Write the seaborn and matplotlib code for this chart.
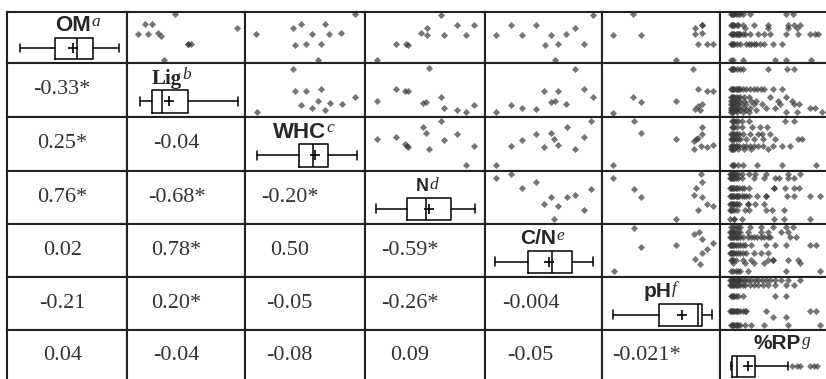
import matplotlib
matplotlib.use('Agg')
import matplotlib.pyplot as plt
import pandas as pd
import seaborn as sns

# Variables on the diagonal and their footnote letters
variables = ['OM', 'Lig', 'WHC', 'N', 'C/N', 'pH', '%RP']
footnotes = ['a', 'b', 'c', 'd', 'e', 'f', 'g']

# Lower triangle: correlation coefficients (* = significant)
corr_text = [
    [],
    ['-0.33*'],
    ['0.25*', '-0.04'],
    ['0.76*', '-0.68*', '-0.20*'],
    ['0.02', '0.78*', '0.50', '-0.59*'],
    ['-0.21', '0.20*', '-0.05', '-0.26*', '-0.004'],
    ['0.04', '-0.04', '-0.08', '0.09', '-0.05', '-0.021*'],
]

# Box plot statistics per variable (scaled 0-100 across the cell)
box_whislo = [11, 11, 10, 9, 8.5, 9, 9]
box_q1 = [40, 21, 45, 35, 37, 48, 10]
box_med = [58, 30, 57, 51, 57, 81, 14]
box_mean = [55, 36, 58, 53, 55, 68, 23]
box_q3 = [72, 52, 69, 72, 74, 85, 29]
box_whishi = [93, 94, 93, 92, 92, 93, 57]
rp_fliers = [60, 64, 67, 75, 78, 81]

# Upper triangle scatter points (x = column variable, y = row variable), scaled 0-100
om_lig = [(41, 96), (15, 76), (21, 76), (93, 69), (9, 57), (18, 57), (26, 59), (29, 53),
          (52, 37), (52, 37), (54, 37), (31, 6)]
om_whc = [(92, 96), (40, 69), (47, 76), (67, 76), (9, 57), (56, 57), (70, 57), (80, 59),
          (42, 35), (51, 37), (63, 37), (61, 6)]
om_n = [(63, 94), (52, 69), (47, 59), (52, 55), (77, 75), (91, 75), (66, 55), (84, 55),
        (26, 37), (34, 37), (36, 35), (10, 6)]
om_cn = [(92, 94), (22, 75), (44, 75), (9, 55), (32, 55), (56, 55), (69, 57), (77, 69),
         (51, 35), (62, 37), (85, 37), (60, 6)]
om_ph = [(26, 96), (9, 55), (33, 55), (85, 75), (85, 75), (79, 69), (79, 57), (85, 59),
         (81, 37), (89, 37), (94, 37), (63, 6)]
lig_whc = [(40, 89), (42, 48), (51, 48), (63, 52), (92, 37), (61, 30), (71, 26), (81, 24),
           (47, 22), (56, 17), (67, 13), (10, 9)]
lig_n = [(53, 91), (26, 52), (33, 48), (36, 48), (63, 37), (10, 30), (48, 26), (51, 28),
         (66, 17), (77, 13), (84, 9), (91, 22)]
lig_cn = [(77, 89), (50, 48), (62, 48), (85, 52), (92, 37), (9, 9), (22, 22), (32, 17),
          (44, 15), (56, 28), (60, 30), (69, 24)]
lig_ph = [(77, 89), (81, 52), (89, 48), (94, 48), (26, 37), (33, 28), (63, 30), (81, 20),
          (85, 24), (79, 15), (83, 13), (9, 7)]
whc_n = [(63, 93), (48, 81), (51, 70), (10, 59), (26, 63), (33, 50), (35, 46), (36, 44),
         (53, 41), (66, 57), (77, 69), (91, 46), (84, 11)]
whc_cn = [(91, 93), (70, 81), (44, 69), (56, 70), (32, 57), (59, 59), (62, 48), (22, 46),
          (50, 44), (77, 41), (85, 63), (9, 11)]
whc_ph = [(27, 93), (33, 70), (63, 59), (85, 81), (85, 69), (81, 61), (80, 59), (78, 56),
          (78, 41), (84, 46), (89, 44), (94, 48), (9, 11)]
n_cn = [(9, 87), (22, 94), (32, 68), (44, 79), (56, 51), (50, 38), (62, 34), (70, 51),
        (77, 55), (91, 66), (85, 26), (59, 9)]
n_ph = [(9, 87), (27, 66), (33, 51), (84, 94), (85, 79), (80, 68), (78, 55), (85, 51),
        (89, 38), (94, 34), (81, 26), (63, 9)]
cn_ph = [(27, 92), (78, 81), (82, 85), (33, 57), (63, 60), (85, 72), (94, 64), (89, 53),
         (85, 45), (79, 34), (83, 25), (10, 11)]

# %RP column: each row variable has a few levels, with many %RP values per level
rp_om_y = [96, 75, 69, 57, 37, 6]
rp_om_x = [[9, 10, 11, 12, 13, 15, 17, 19, 25, 55, 61],
           [9, 10, 11, 12, 14, 15, 19, 28, 40, 57, 62, 67],
           [21, 40, 57, 64],
           [9, 10, 11, 12, 13, 14, 15, 16, 17, 19, 21, 25, 32, 37, 42, 55, 65, 75, 79, 82],
           [9, 10, 11, 12, 14, 17, 22, 24, 26, 28, 30, 33, 37, 44, 52],
           [9, 11, 19, 46, 55, 76]]
rp_lig_y = [89, 52, 37, 30, 24, 17, 13, 9]
rp_lig_x = [[9, 10, 11, 12, 14, 17, 19, 40, 56, 62],
            [9, 10, 11, 12, 13, 14, 15, 16, 17, 19, 22, 25, 28, 31, 34, 37, 44, 52],
            [9, 10, 11, 12, 13, 15, 17, 20, 24, 42, 55],
            [9, 10, 11, 12, 14, 16, 20, 26, 30, 48, 60],
            [9, 10, 11, 13, 15, 18, 22, 28, 35, 50, 62, 66],
            [9, 10, 11, 12, 14, 16, 20, 25, 38, 46, 75, 79],
            [9, 10, 11, 12, 13, 17, 22, 30],
            [9, 10, 11, 14, 19, 24, 55, 64, 85]]
rp_whc_y = [93, 81, 69, 59, 46, 41, 11]
rp_whc_x = [[10, 11, 12, 13, 15, 18, 24, 54, 62],
            [10, 11, 12, 14, 18, 27, 33, 39],
            [9, 10, 11, 12, 13, 14, 16, 19, 25, 32, 35, 42],
            [9, 10, 11, 12, 13, 15, 17, 22, 28, 36, 46, 65, 68],
            [9, 10, 11, 12, 13, 14, 16, 19, 22, 25, 28, 32, 36, 44, 52, 58],
            [9, 10, 11, 12, 15, 20, 26, 40],
            [10, 11, 12, 15, 19, 31, 52, 80]]
rp_n_y = [94, 87, 68, 53, 38, 26, 9]
rp_n_x = [[8, 9, 10, 11, 12, 13, 15, 18, 24, 29, 38, 57, 67],
          [8, 9, 10, 11, 12, 13, 15, 18, 28, 37, 46, 49, 57, 62],
          [8, 9, 10, 11, 12, 13, 14, 16, 18, 20, 24, 45, 45, 54, 62, 66],
          [8, 9, 10, 11, 12, 13, 14, 15, 16, 18, 20, 22, 24, 31, 38, 38, 56, 62, 75, 83],
          [8, 9, 10, 11, 12, 13, 14, 16, 23, 23, 29, 37],
          [8, 9, 10, 12, 14, 21, 24, 38, 43, 53],
          [8, 12, 12, 18, 45, 53, 75]]
rp_cn_y = [94, 85, 75, 60, 45, 32, 26, 11]
rp_cn_x = [[9, 11, 13, 15, 17, 25, 34, 44, 55, 61],
           [8, 9, 10, 11, 12, 13, 15, 17, 23, 34, 40, 51, 57],
           [8, 9, 10, 11, 12, 13, 14, 15, 17, 19, 23, 26, 28, 31, 34, 37, 40, 42, 58, 63],
           [8, 9, 10, 11, 12, 13, 15, 17, 19, 21, 26, 38, 46, 55, 75, 80],
           [8, 9, 10, 11, 12, 13, 15, 17, 19, 22, 28, 34, 40],
           [9, 10, 11, 13, 19, 26, 40, 44, 44, 57, 65],
           [11, 21, 28, 37, 67],
           [9, 11, 13, 15, 17, 23, 55, 83]]
rp_ph_y = [94, 85, 64, 36, 25, 9]
rp_ph_x = [[8, 9, 10, 11, 12, 13, 14, 15, 16, 17, 19, 21, 23, 26, 29, 32, 35, 38, 42, 46, 51, 57, 67],
           [8, 9, 10, 11, 12, 13, 14, 15, 17, 19, 21, 25, 28, 32, 36, 40, 46, 55, 62],
           [9, 10, 11, 12, 13, 15, 19, 46, 55],
           [8, 9, 10, 11, 12, 13, 14, 15, 17, 19, 21, 22, 38, 75, 80],
           [44, 55],
           [9, 10, 11, 12, 13, 14, 15, 17, 21, 26, 37, 57, 83]]


def expand_levels(levels, xs):
    return [(x, y) for y, row in zip(levels, xs) for x in row]


scatter_data = {
    (0, 1): om_lig, (0, 2): om_whc, (0, 3): om_n, (0, 4): om_cn, (0, 5): om_ph,
    (1, 2): lig_whc, (1, 3): lig_n, (1, 4): lig_cn, (1, 5): lig_ph,
    (2, 3): whc_n, (2, 4): whc_cn, (2, 5): whc_ph,
    (3, 4): n_cn, (3, 5): n_ph,
    (4, 5): cn_ph,
    (0, 6): expand_levels(rp_om_y, rp_om_x),
    (1, 6): expand_levels(rp_lig_y, rp_lig_x),
    (2, 6): expand_levels(rp_whc_y, rp_whc_x),
    (3, 6): expand_levels(rp_n_y, rp_n_x),
    (4, 6): expand_levels(rp_cn_y, rp_cn_x),
    (5, 6): expand_levels(rp_ph_y, rp_ph_x),
}

# Table layout in pixels
W, H = 826, 379
col_edges = [7, 127, 245, 365, 485, 602, 720, 840]
row_edges = [12, 63, 117, 171, 224, 277, 330, 381]
corr_x = [46, 42, 37, 37, 39, 38]
label_x = [40, 21, 23, 42, 30, 35, 28]
label_size = [16, 15, 16, 13, 15, 15, 15]

sns.set_style('white')
plt.rcParams['font.family'] = ['Liberation Sans', 'DejaVu Sans']

fig = plt.figure(figsize=(W / 100, H / 100), dpi=100)


def cell_axes(i, j):
    x0, x1 = col_edges[j], col_edges[j + 1]
    y0, y1 = row_edges[i], row_edges[i + 1]
    ax = fig.add_axes([x0 / W, 1 - y1 / H, (x1 - x0) / W, (y1 - y0) / H])
    return ax


def finish(ax):
    ax.set_xlim(0, 100)
    ax.set_ylim(0, 100)
    ax.set_xticks([])
    ax.set_yticks([])
    ax.set_xlabel('')
    ax.set_ylabel('')
    for s in ax.spines.values():
        s.set_visible(True)
        s.set_linewidth(1.5)
        s.set_color('#222222')


n = len(variables)
for i in range(n):
    for j in range(n):
        ax = cell_axes(i, j)
        if i == j:
            # diagonal: variable name and box plot
            stats = [dict(whislo=box_whislo[i], q1=box_q1[i], med=box_med[i], q3=box_q3[i],
                          whishi=box_whishi[i], mean=box_mean[i],
                          fliers=rp_fliers if variables[i] == '%RP' else [])]
            ax.bxp(stats, positions=[29], widths=42, orientation='horizontal',
                   showmeans=True, capwidths=16, manage_ticks=False,
                   boxprops=dict(color='black', linewidth=1.1),
                   medianprops=dict(color='black', linewidth=1.1),
                   whiskerprops=dict(color='black', linewidth=1.1),
                   capprops=dict(color='black', linewidth=1.1),
                   meanprops=dict(marker='+', markeredgecolor='black', markersize=7,
                                  markeredgewidth=1.2),
                   flierprops=dict(marker='D', markerfacecolor='#3a3a3a', markeredgewidth=0,
                                   markersize=3.5, alpha=0.7))
            family = 'Liberation Serif' if variables[i] == 'Lig' else 'Liberation Sans'
            t = ax.text(label_x[i], 62, variables[i], fontsize=label_size[i],
                        fontweight='bold', family=family, ha='left', va='baseline')
            ax.annotate(footnotes[i], xy=(1, 1), xycoords=t, xytext=(0.5, 1),
                        textcoords='offset points', ha='left', va='top',
                        fontsize=12.5, style='italic', family='Liberation Serif')
        elif i > j:
            # lower triangle: correlation coefficient
            ax.text(corr_x[j], 50, corr_text[i][j], fontsize=16, family='Liberation Serif',
                    color='#333333', ha='center', va='center')
        else:
            # upper triangle: scatter plot
            df = pd.DataFrame(scatter_data[(i, j)], columns=['x', 'y'])
            sns.scatterplot(data=df, x='x', y='y', ax=ax, marker='D', s=13,
                            color='#3a3a3a', alpha=0.7, linewidth=0, legend=False)
        finish(ax)

fig.savefig('out.png', dpi=100)
